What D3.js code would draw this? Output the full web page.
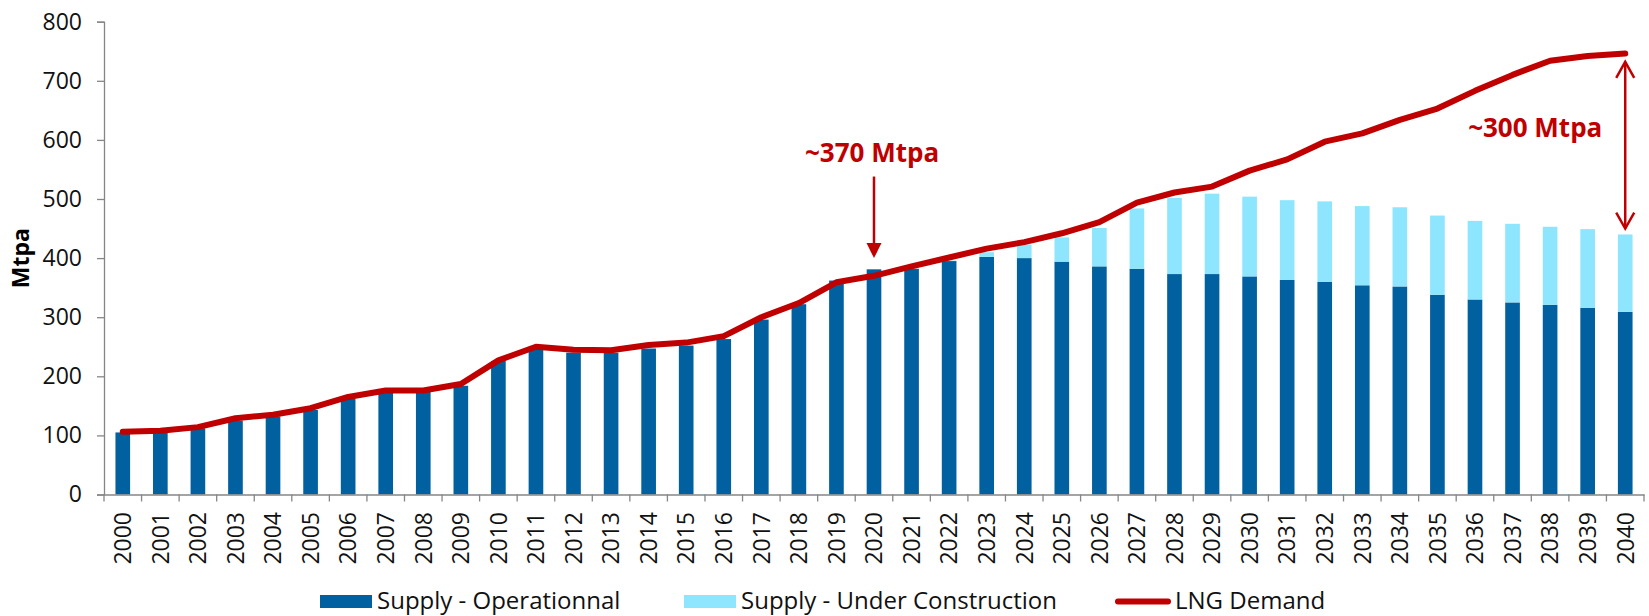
<!DOCTYPE html>
<html>
<head>
<meta charset="utf-8">
<script src="https://cdn.jsdelivr.net/npm/d3@7"></script>
<style>
  html, body { margin: 0; padding: 0; background: #fff; }
  svg { display: block; font-family: "Open Sans", sans-serif; }
</style>
</head>
<body>
<svg id="chart" width="1649" height="616"></svg>
<script>
// ---------- DATA ----------
const years = ["2000","2001","2002","2003","2004","2005","2006","2007","2008","2009",
  "2010","2011","2012","2013","2014","2015","2016","2017","2018","2019",
  "2020","2021","2022","2023","2024","2025","2026","2027","2028","2029",
  "2030","2031","2032","2033","2034","2035","2036","2037","2038","2039","2040"];

const supplyOperational = [105,105,112,125,132,143,162,174,174,184,
  226,247,240,240,247,252,263,296,322,362,
  381,382,395,402,400,394,386,382,373,373,
  369,363,360,354,352,338,330,325,321,316,309];

const supplyUnderConstruction = [0,0,0,0,0,0,0,0,0,0,
  0,0,0,0,0,0,0,0,0,0,
  0,0,1,8,23,41,65,102,129,136,
  135,135,136,134,134,134,133,133,132,133,131];

const lngDemand = [106,108,114,129,135,146,165,176,176,187,
  227,250,245,244,253,257,268,300,324,359,
  370,386,401,416,427,442,461,494,511,521,
  548,567,597,611,634,653,683,710,734,742,746];

const yTicks = [0,100,200,300,400,500,600,700,800];
const seriesNames = ["Supply - Operationnal","Supply - Under Construction","LNG Demand"];
const colors = { op: "#0060A0", uc: "#8DE6FD", demand: "#C00000", axis: "#868686" };

// ---------- LAYOUT ----------
const svg = d3.select("#chart");
const plotLeft = 104, plotRight = 1644, plotTop = 21.7, plotBottom = 494.5;

const x = d3.scaleBand().domain(years).range([plotLeft, plotRight]).paddingInner(0.61).paddingOuter(0.305);
const y = d3.scaleLinear().domain([0, 800]).range([plotBottom, plotTop]);

// ---------- BARS ----------
const rows = years.map((yr, i) => ({
  year: yr, op: supplyOperational[i], uc: supplyUnderConstruction[i], demand: lngDemand[i]
}));

svg.append("g").selectAll("rect.op").data(rows).join("rect")
  .attr("class", "op")
  .attr("x", d => x(d.year)).attr("width", x.bandwidth())
  .attr("y", d => y(d.op)).attr("height", d => y(0) - y(d.op))
  .attr("fill", colors.op);

svg.append("g").selectAll("rect.uc").data(rows.filter(d => d.uc > 0)).join("rect")
  .attr("class", "uc")
  .attr("x", d => x(d.year)).attr("width", x.bandwidth())
  .attr("y", d => y(d.op + d.uc)).attr("height", d => y(d.op) - y(d.op + d.uc))
  .attr("fill", colors.uc);

// ---------- AXES ----------
const yAxis = svg.append("g").attr("transform", `translate(${plotLeft},0)`)
  .call(d3.axisLeft(y).tickValues(yTicks).tickSize(7).tickPadding(15));
yAxis.selectAll("path, line").attr("stroke", colors.axis).attr("stroke-width", 1.3);
yAxis.selectAll("text").attr("font-size", 23).attr("fill", "#111")
  .attr("font-family", "'Open Sans', sans-serif");

const xAxis = svg.append("g").attr("transform", `translate(0,${plotBottom})`)
  .call(d3.axisBottom(x).tickSize(0).tickSizeOuter(0));
xAxis.select("path.domain").attr("stroke", colors.axis).attr("stroke-width", 1.3);
xAxis.selectAll("text")
  .attr("font-size", 23).attr("fill", "#111")
  .attr("font-family", "'Open Sans', sans-serif")
  .attr("transform", "rotate(-90)")
  .attr("text-anchor", "end")
  .attr("x", -17.5).attr("y", 0).attr("dy", "0.36em");

// boundary ticks between categories
const boundaries = years.map(d => x(d) - x.step() * x.paddingInner() / 2)
  .concat([x(years[years.length - 1]) + x.bandwidth() + x.step() * x.paddingInner() / 2]);
xAxis.selectAll("line.btick").data(boundaries).join("line")
  .attr("class", "btick")
  .attr("x1", d => d).attr("x2", d => d)
  .attr("y1", 0).attr("y2", 7)
  .attr("stroke", colors.axis).attr("stroke-width", 1.3);

// y axis title
svg.append("text")
  .attr("transform", `translate(21,${(plotTop + plotBottom) / 2}) rotate(-90)`)
  .attr("text-anchor", "middle").attr("dy", "0.35em")
  .attr("font-size", 23).attr("font-weight", "bold").attr("fill", "#000")
  .text("Mtpa");

// ---------- DEMAND LINE ----------
const line = d3.line().x(d => x(d.year) + x.bandwidth() / 2).y(d => y(d.demand));
svg.append("path").datum(rows)
  .attr("d", line)
  .attr("fill", "none").attr("stroke", colors.demand)
  .attr("stroke-width", 6).attr("stroke-linejoin", "round").attr("stroke-linecap", "round");

// ---------- ANNOTATIONS ----------
const cx = yr => x(yr) + x.bandwidth() / 2;
const ann = svg.append("g").attr("fill", colors.demand).attr("stroke", colors.demand);

// ~370 Mtpa arrow (2020)
{
  const ax = cx("2020"), y1 = y(538), y2 = y(400);
  ann.append("line").attr("x1", ax).attr("x2", ax).attr("y1", y1).attr("y2", y2 - 13)
    .attr("stroke-width", 2.5);
  ann.append("path").attr("stroke", "none")
    .attr("d", `M${ax - 7.5},${y2 - 15} L${ax + 7.5},${y2 - 15} L${ax},${y2} Z`);
  ann.append("text").attr("stroke", "none")
    .attr("x", ax - 2).attr("y", y(563))
    .attr("text-anchor", "middle").attr("font-size", 26).attr("font-weight", "bold")
    .text("~370 Mtpa");
}

// ~300 Mtpa double arrow (2040)
{
  const ax = cx("2040"), yTop = y(732), yBot = y(450);
  ann.append("line").attr("x1", ax).attr("x2", ax).attr("y1", yTop).attr("y2", yBot)
    .attr("stroke-width", 2.5);
  ann.append("path").attr("fill", "none").attr("stroke-width", 2.5)
    .attr("d", `M${ax - 9},${yTop + 16} L${ax},${yTop} L${ax + 9},${yTop + 16}`);
  ann.append("path").attr("fill", "none").attr("stroke-width", 2.5)
    .attr("d", `M${ax - 9},${yBot - 16} L${ax},${yBot} L${ax + 9},${yBot - 16}`);
  ann.append("text").attr("stroke", "none")
    .attr("x", ax - 90).attr("y", y(605))
    .attr("text-anchor", "middle").attr("font-size", 26).attr("font-weight", "bold")
    .text("~300 Mtpa");
}

// ---------- LEGEND ----------
const legend = svg.append("g").attr("font-size", 24).attr("fill", "#111");
const ly = 601.5;
legend.append("rect").attr("x", 320).attr("y", ly - 6.5).attr("width", 52).attr("height", 13).attr("fill", colors.op);
legend.append("text").attr("x", 377).attr("y", ly).attr("dy", "0.33em").text(seriesNames[0]);
legend.append("rect").attr("x", 684).attr("y", ly - 6.5).attr("width", 52).attr("height", 13).attr("fill", colors.uc);
legend.append("text").attr("x", 741).attr("y", ly).attr("dy", "0.33em").text(seriesNames[1]);
legend.append("line").attr("x1", 1118).attr("x2", 1168).attr("y1", ly).attr("y2", ly)
  .attr("stroke", colors.demand).attr("stroke-width", 6).attr("stroke-linecap", "round");
legend.append("text").attr("x", 1175).attr("y", ly).attr("dy", "0.33em").text(seriesNames[2]);
</script>
</body>
</html>
